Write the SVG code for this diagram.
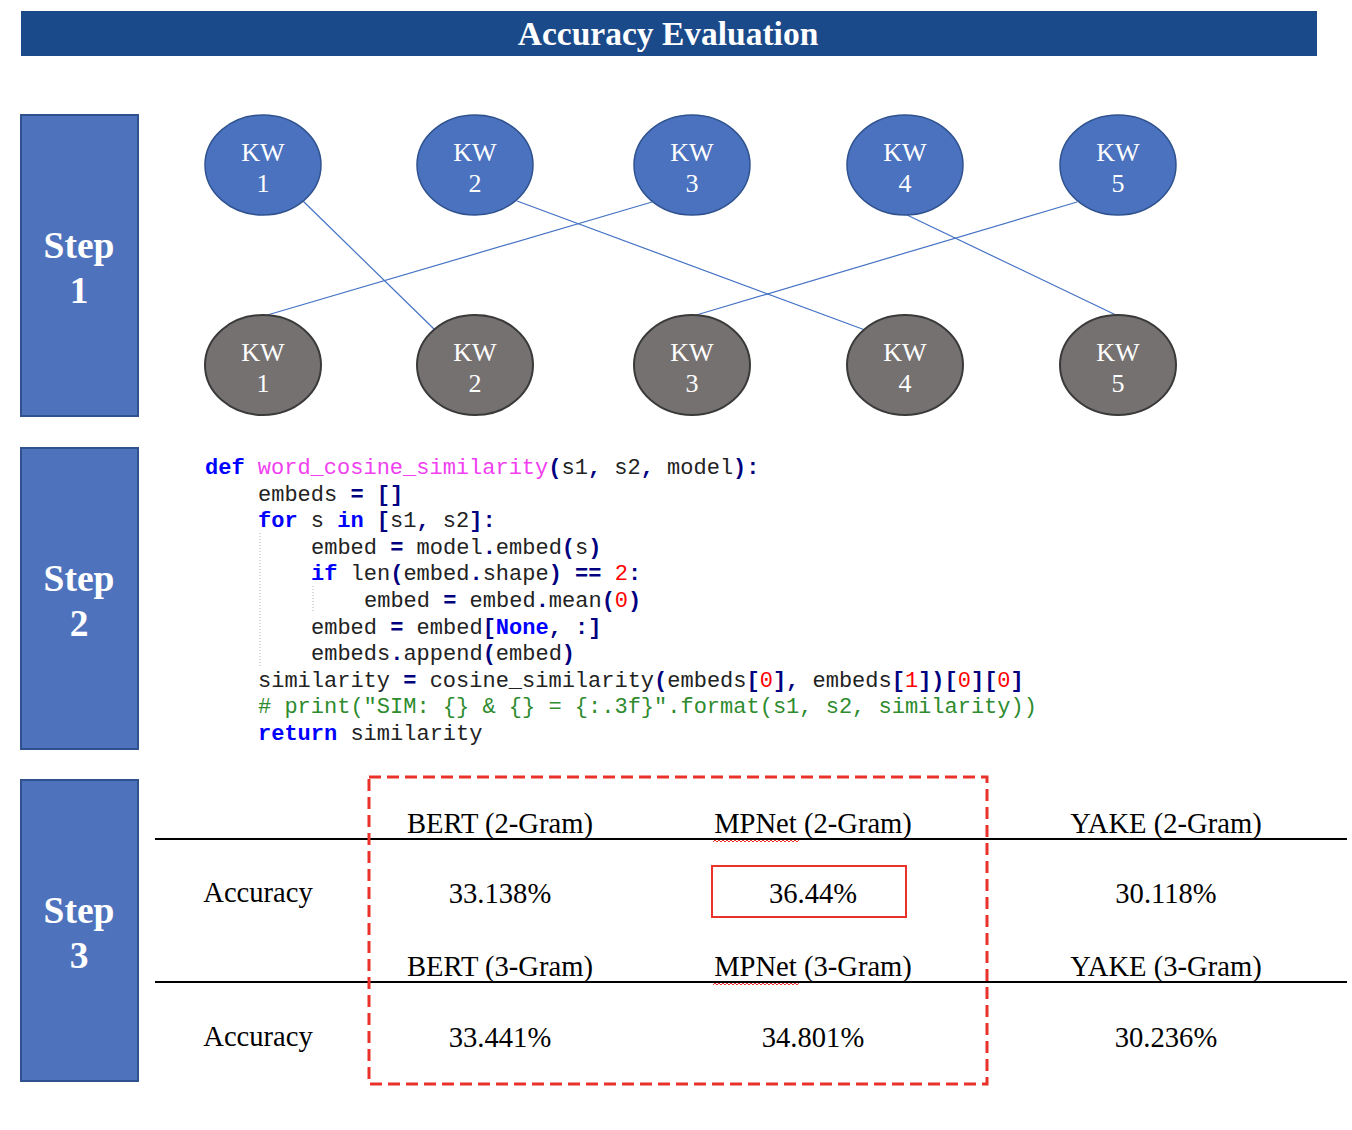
<svg xmlns="http://www.w3.org/2000/svg" width="1352" height="1130" viewBox="0 0 1352 1130">
<style>
.title{font-family:"Liberation Serif","Times New Roman",serif;font-weight:bold;font-size:33.5px;fill:#fff;text-anchor:middle}
.step rect{fill:#4f72bd;stroke:#2f528f;stroke-width:2}
.step text{font-family:"Liberation Serif","Times New Roman",serif;font-weight:bold;font-size:37.5px;fill:#fff;text-anchor:middle}
.kwt ellipse{fill:#4a72bf;stroke:#2f528f;stroke-width:1.5}
.kwb ellipse{fill:#767171;stroke:#3a3a3a;stroke-width:2}
.kw text{font-family:"Liberation Serif","Times New Roman",serif;font-size:26px;fill:#fff;text-anchor:middle}
.conn line{stroke:#4472c4;stroke-width:1.2}
.code{font-family:"Liberation Mono","Courier New",monospace;font-size:22px;fill:#222;white-space:pre}
.k{font-weight:bold;fill:#0000ff}
.f{fill:#f040f0}
.o{font-weight:bold;fill:#000080}
.n{fill:#ff0000}
.c{fill:#2e8b2e}
.tb{font-family:"Liberation Serif","Times New Roman",serif;font-size:28.6px;fill:#000;text-anchor:middle}
.guide{stroke:#b0b0b0;stroke-width:1;stroke-dasharray:1,2}
.sq{fill:none;stroke:#e8322a;stroke-width:1}
</style>
<g id="header">
<rect x="21" y="11" width="1296" height="45" fill="#1a4a8a"/>
<text class="title" x="668" y="45">Accuracy Evaluation</text>
</g>
<g id="step1" class="step">
<rect x="21" y="115" width="117" height="301"/>
<text x="79" y="258">Step</text>
<text x="79" y="303">1</text>
</g>
<g id="step2" class="step">
<rect x="21" y="448" width="117" height="301"/>
<text x="79" y="591">Step</text>
<text x="79" y="636">2</text>
</g>
<g id="step3" class="step">
<rect x="21" y="780" width="117" height="301"/>
<text x="79" y="923">Step</text>
<text x="79" y="968">3</text>
</g>
<g id="connectors" class="conn">
<line x1="303" y1="201" x2="435" y2="330"/>
<line x1="652" y1="202" x2="264" y2="316"/>
<line x1="517" y1="201" x2="865" y2="330"/>
<line x1="1077" y1="202" x2="693" y2="316"/>
<line x1="907" y1="215" x2="1118" y2="316"/>
</g>
<g id="top-kw1" class="kw kwt"><ellipse cx="263" cy="165" rx="58" ry="50"/><text x="263" y="161">KW</text><text x="263" y="192">1</text></g>
<g id="top-kw2" class="kw kwt"><ellipse cx="475" cy="165" rx="58" ry="50"/><text x="475" y="161">KW</text><text x="475" y="192">2</text></g>
<g id="top-kw3" class="kw kwt"><ellipse cx="692" cy="165" rx="58" ry="50"/><text x="692" y="161">KW</text><text x="692" y="192">3</text></g>
<g id="top-kw4" class="kw kwt"><ellipse cx="905" cy="165" rx="58" ry="50"/><text x="905" y="161">KW</text><text x="905" y="192">4</text></g>
<g id="top-kw5" class="kw kwt"><ellipse cx="1118" cy="165" rx="58" ry="50"/><text x="1118" y="161">KW</text><text x="1118" y="192">5</text></g>
<g id="bot-kw1" class="kw kwb"><ellipse cx="263" cy="365" rx="58" ry="50"/><text x="263" y="361">KW</text><text x="263" y="392">1</text></g>
<g id="bot-kw2" class="kw kwb"><ellipse cx="475" cy="365" rx="58" ry="50"/><text x="475" y="361">KW</text><text x="475" y="392">2</text></g>
<g id="bot-kw3" class="kw kwb"><ellipse cx="692" cy="365" rx="58" ry="50"/><text x="692" y="361">KW</text><text x="692" y="392">3</text></g>
<g id="bot-kw4" class="kw kwb"><ellipse cx="905" cy="365" rx="58" ry="50"/><text x="905" y="361">KW</text><text x="905" y="392">4</text></g>
<g id="bot-kw5" class="kw kwb"><ellipse cx="1118" cy="365" rx="58" ry="50"/><text x="1118" y="361">KW</text><text x="1118" y="392">5</text></g>
<g id="code">
<line class="guide" x1="260" y1="533" x2="260" y2="666"/>
<line class="guide" x1="313" y1="586" x2="313" y2="612"/>
<text class="code" xml:space="preserve" x="205" y="474"><tspan class="k">def</tspan> <tspan class="f">word_cosine_similarity</tspan><tspan class="o">(</tspan>s1<tspan class="o">,</tspan> s2<tspan class="o">,</tspan> model<tspan class="o">):</tspan></text>
<text class="code" xml:space="preserve" x="258" y="501">embeds <tspan class="o">=</tspan> <tspan class="o">[]</tspan></text>
<text class="code" xml:space="preserve" x="258" y="527"><tspan class="k">for</tspan> s <tspan class="k">in</tspan> <tspan class="o">[</tspan>s1<tspan class="o">,</tspan> s2<tspan class="o">]:</tspan></text>
<text class="code" xml:space="preserve" x="311" y="554">embed <tspan class="o">=</tspan> model<tspan class="o">.</tspan>embed<tspan class="o">(</tspan>s<tspan class="o">)</tspan></text>
<text class="code" xml:space="preserve" x="311" y="580"><tspan class="k">if</tspan> len<tspan class="o">(</tspan>embed<tspan class="o">.</tspan>shape<tspan class="o">)</tspan> <tspan class="o">==</tspan> <tspan class="n">2</tspan><tspan class="o">:</tspan></text>
<text class="code" xml:space="preserve" x="364" y="607">embed <tspan class="o">=</tspan> embed<tspan class="o">.</tspan>mean<tspan class="o">(</tspan><tspan class="n">0</tspan><tspan class="o">)</tspan></text>
<text class="code" xml:space="preserve" x="311" y="634">embed <tspan class="o">=</tspan> embed<tspan class="o">[</tspan><tspan class="k">None</tspan><tspan class="o">,</tspan> <tspan class="o">:]</tspan></text>
<text class="code" xml:space="preserve" x="311" y="660">embeds<tspan class="o">.</tspan>append<tspan class="o">(</tspan>embed<tspan class="o">)</tspan></text>
<text class="code" xml:space="preserve" x="258" y="687">similarity <tspan class="o">=</tspan> cosine_similarity<tspan class="o">(</tspan>embeds<tspan class="o">[</tspan><tspan class="n">0</tspan><tspan class="o">],</tspan> embeds<tspan class="o">[</tspan><tspan class="n">1</tspan><tspan class="o">])[</tspan><tspan class="n">0</tspan><tspan class="o">][</tspan><tspan class="n">0</tspan><tspan class="o">]</tspan></text>
<text class="code c" xml:space="preserve" x="258" y="713"># print("SIM: {} &amp; {} = {:.3f}".format(s1, s2, similarity))</text>
<text class="code" xml:space="preserve" x="258" y="740"><tspan class="k">return</tspan> similarity</text>
</g>
<g id="table">
<line x1="155" y1="839" x2="1347" y2="839" stroke="#000" stroke-width="2"/>
<line x1="155" y1="982" x2="1347" y2="982" stroke="#000" stroke-width="2"/>
<text class="tb" x="500" y="833">BERT (2-Gram)</text>
<text class="tb" x="813" y="833">MPNet (2-Gram)</text>
<text class="tb" x="1166" y="833">YAKE (2-Gram)</text>
<text class="tb" x="258" y="902">Accuracy</text>
<text class="tb" x="500" y="903">33.138%</text>
<text class="tb" x="813" y="903">36.44%</text>
<text class="tb" x="1166" y="903">30.118%</text>
<text class="tb" x="500" y="976">BERT (3-Gram)</text>
<text class="tb" x="813" y="976">MPNet (3-Gram)</text>
<text class="tb" x="1166" y="976">YAKE (3-Gram)</text>
<text class="tb" x="258" y="1046">Accuracy</text>
<text class="tb" x="500" y="1047">33.441%</text>
<text class="tb" x="813" y="1047">34.801%</text>
<text class="tb" x="1166" y="1047">30.236%</text>
<path class="sq" d="M713,842 l2,-2 l2,2 l2,-2 l2,2 l2,-2 l2,2 l2,-2 l2,2 l2,-2 l2,2 l2,-2 l2,2 l2,-2 l2,2 l2,-2 l2,2 l2,-2 l2,2 l2,-2 l2,2 l2,-2 l2,2 l2,-2 l2,2 l2,-2 l2,2 l2,-2 l2,2 l2,-2 l2,2 l2,-2 l2,2 l2,-2 l2,2 l2,-2 l2,2 l2,-2 l2,2 l2,-2 l2,2 l2,-2 l2,2 l2,-2"/>
<path class="sq" d="M713,985 l2,-2 l2,2 l2,-2 l2,2 l2,-2 l2,2 l2,-2 l2,2 l2,-2 l2,2 l2,-2 l2,2 l2,-2 l2,2 l2,-2 l2,2 l2,-2 l2,2 l2,-2 l2,2 l2,-2 l2,2 l2,-2 l2,2 l2,-2 l2,2 l2,-2 l2,2 l2,-2 l2,2 l2,-2 l2,2 l2,-2 l2,2 l2,-2 l2,2 l2,-2 l2,2 l2,-2 l2,2 l2,-2 l2,2 l2,-2"/>
<rect x="712" y="866" width="194" height="51" fill="none" stroke="#e8322a" stroke-width="2"/>
<rect x="369" y="777" width="618" height="307" fill="none" stroke="#e8322a" stroke-width="3" stroke-dasharray="12,6"/>
</g>
</svg>
